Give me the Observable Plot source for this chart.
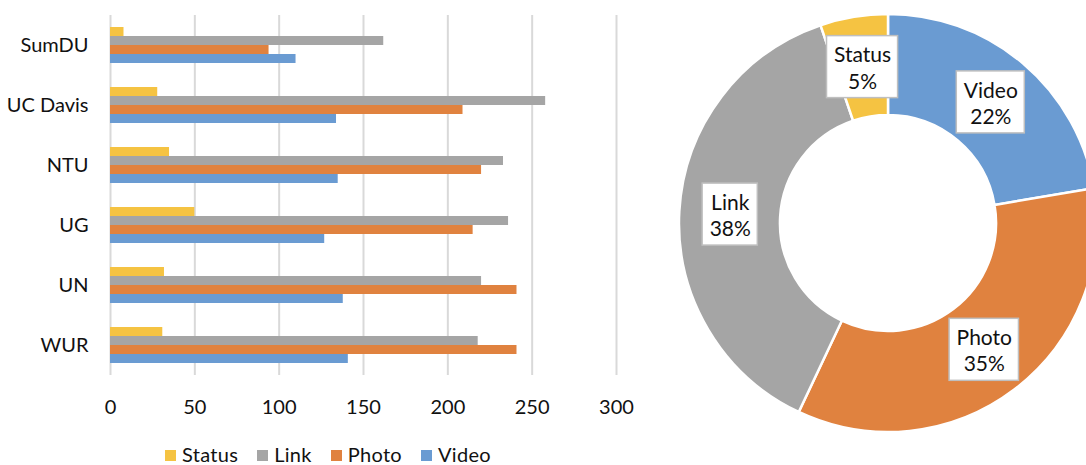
<!DOCTYPE html>
<html>
<head>
<meta charset="utf-8">
<script src="https://cdn.jsdelivr.net/npm/d3@7"></script>
<script src="https://cdn.jsdelivr.net/npm/@observablehq/plot@0.6"></script>
<style>
  html, body { margin: 0; padding: 0; background: #fff; overflow: hidden; }
  #wrap { position: relative; width: 1086px; height: 465px; overflow: hidden; font-family: Lato, "Open Sans", sans-serif; }
  #bars { position: absolute; left: 0; top: 0; }
  #donut { position: absolute; left: 660px; top: 0; }
  #legend { position: absolute; left: 165px; top: 444px; display: flex; align-items: center; font-size: 20px; color: #111; line-height: 20px; letter-spacing: 0.3px; }
  #legend .item { display: flex; align-items: center; margin-right: 19px; }
  #legend .sw { width: 11px; height: 11px; margin-right: 6px; margin-top: 3px; }
</style>
</head>
<body>
<div id="wrap">
  <div id="bars"></div>
  <div id="legend"></div>
  <div id="donut"></div>
</div>
<script>
// ---- data ----
const categories = ["SumDU", "UC Davis", "NTU", "UG", "UN", "WUR"];
const series = ["Status", "Link", "Photo", "Video"];
const status = [8, 28, 35, 50, 32, 31];
const link = [162, 258, 233, 236, 220, 218];
const photo = [94, 209, 220, 215, 241, 241];
const video = [110, 134, 135, 127, 138, 141];
const xTicks = [0, 50, 100, 150, 200, 250, 300];
const colors = ["#F5C342", "#A5A5A5", "#E0823F", "#6A9BD2"];
const pieOrder = ["Video", "Photo", "Link", "Status"];

const valuesBySeries = {Status: status, Link: link, Photo: photo, Video: video};
const rows = [];
series.forEach(s => categories.forEach((c, i) => rows.push({cat: c, series: s, value: valuesBySeries[s][i]})));
const colorOf = s => colors[series.indexOf(s)];

// ---- bar chart ----
const bars = Plot.plot({
  width: 650, height: 430,
  marginLeft: 110, marginRight: 34, marginTop: 15, marginBottom: 55,
  style: {fontFamily: "Lato, 'Open Sans', sans-serif", fontSize: "20px", color: "#111", background: "transparent"},
  x: {domain: [0, 300], ticks: xTicks, tickSize: 0, tickPadding: 24, label: null, tickFormat: d => String(d)},
  fy: {domain: categories, padding: 0, axis: "left", tickSize: 0, tickPadding: 22, label: null},
  y: {domain: series, padding: 0, insetTop: 11, insetBottom: 11, axis: null},
  color: {domain: series, range: colors},
  marks: [
    Plot.gridX(xTicks, {stroke: "#d9d9d9", strokeOpacity: 1, strokeWidth: 2}),
    Plot.barX(rows, {x: "value", y: "series", fy: "cat", fill: "series"})
  ]
});
document.getElementById("bars").appendChild(bars);

// ---- legend ----
const leg = d3.select("#legend");
series.forEach(s => {
  const it = leg.append("div").attr("class", "item");
  it.append("div").attr("class", "sw").style("background", colorOf(s));
  it.append("span").text(s);
});

// ---- donut ----
const totals = pieOrder.map(s => ({series: s, total: d3.sum(valuesBySeries[s])}));
const grand = d3.sum(totals, d => d.total);
const pie = d3.pie().sort(null).value(d => d.total)(totals);
const innerRatio = 0.517;
const midR = (1 + innerRatio) / 2;
const labels = pie.map(p => {
  const a = (p.startAngle + p.endAngle) / 2;
  return {
    x: midR * Math.sin(a),
    y: midR * Math.cos(a),
    name: p.data.series,
    pct: Math.round(p.data.total / grand * 100) + "%"
  };
});

const ctx = document.createElement("canvas").getContext("2d");
ctx.font = "21px Lato";

const donut = Plot.plot({
  width: 426, height: 465,
  margin: 0,
  style: {fontFamily: "Lato, 'Open Sans', sans-serif", fontSize: "21px", color: "#111", background: "transparent", overflow: "hidden"},
  x: {domain: [-1, 1], range: [19, 437], axis: null},
  y: {domain: [-1, 1], range: [432, 14], axis: null},
  marks: [
    (index, scales) => {
      const cx = scales.x(0), cy = scales.y(0), R = scales.x(1) - cx;
      const arc = d3.arc().innerRadius(R * innerRatio).outerRadius(R);
      const g = d3.create("svg:g").attr("transform", `translate(${cx},${cy})`);
      g.selectAll("path").data(pie).join("path")
        .attr("d", arc)
        .attr("fill", d => colorOf(d.data.series))
        .attr("stroke", "#fff")
        .attr("stroke-width", 2.5);
      return g.node();
    },
    (index, scales) => {
      const g = d3.create("svg:g");
      labels.forEach(l => {
        const w = Math.max(ctx.measureText(l.name).width, ctx.measureText(l.pct).width) + 14;
        const h = 62;
        g.append("rect")
          .attr("x", scales.x(l.x) - w / 2).attr("y", scales.y(l.y) - h / 2)
          .attr("width", w).attr("height", h)
          .attr("fill", "#fff").attr("stroke", "#bfbfbf").attr("stroke-width", 1.5);
      });
      return g.node();
    },
    Plot.text(labels, {x: "x", y: "y", text: d => d.name + "\n" + d.pct, fontSize: 21, lineHeight: 1.25, fill: "#111"})
  ]
});
document.getElementById("donut").appendChild(donut);
</script>
</body>
</html>
